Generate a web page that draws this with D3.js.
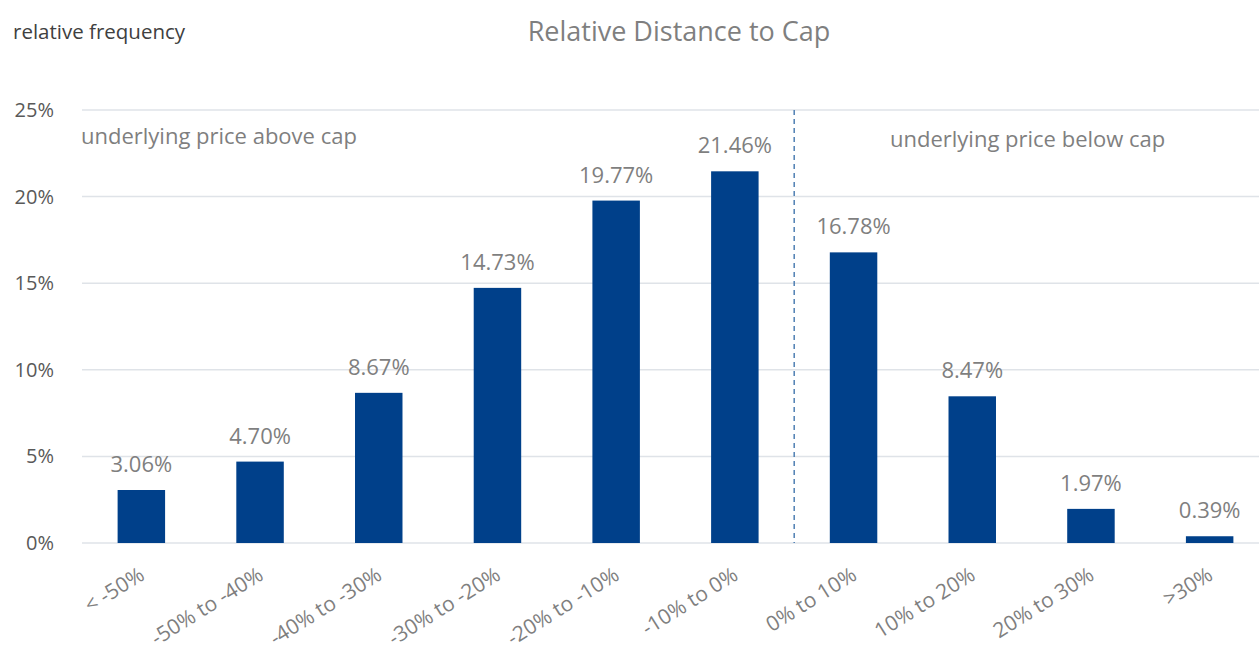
<!DOCTYPE html>
<html><head><meta charset="utf-8">
<script src="https://cdn.jsdelivr.net/npm/d3@7"></script>
<style>body{margin:0;background:#fff}svg{display:block;font-family:"Open Sans",sans-serif}</style>
</head><body><svg id="c" width="1259" height="651"></svg>
<script>
const categories = ["< -50%","-50% to -40%","-40% to -30%","-30% to -20%","-20% to -10%","-10% to 0%","0% to 10%","10% to 20%","20% to 30%",">30%"];
const values = [3.06,4.70,8.67,14.73,19.77,21.46,16.78,8.47,1.97,0.39];
const yTicks = [0,5,10,15,20,25];
const title = "Relative Distance to Cap";
const yLabel = "relative frequency";
const noteLeft = "underlying price above cap";
const noteRight = "underlying price below cap";

const W=1259,H=651, mLeft=82, mRight=1269, mTop=110, mBottom=543;
const FONT='"Open Sans",sans-serif';
const svg=d3.select("#c");
const x=d3.scaleBand().domain(categories).range([mLeft,mRight]).paddingInner(0.6).paddingOuter(0.3);
const y=d3.scaleLinear().domain([0,25]).range([mBottom,mTop]);

// gridlines
svg.append("g").selectAll("line").data(yTicks).join("line")
 .attr("x1",mLeft).attr("x2",W).attr("y1",d=>y(d)).attr("y2",d=>y(d))
 .attr("stroke","#dfe3e8").attr("stroke-width",1.5);
// y axis labels
const ya=svg.append("g").attr("transform",`translate(${mLeft-25},0)`)
 .call(d3.axisLeft(y).tickValues(yTicks).tickFormat(d=>d+"%").tickSize(0));
ya.select(".domain").remove();
ya.selectAll("text").attr("font-size",20).attr("fill","#595959").attr("font-family",FONT).attr("dx",0);

// bars
svg.append("g").selectAll("rect").data(values).join("rect")
 .attr("x",(d,i)=>x(categories[i])).attr("width",x.bandwidth())
 .attr("y",d=>y(d)).attr("height",d=>y(0)-y(d)).attr("fill","#00408a");
// value labels
svg.append("g").selectAll("text").data(values).join("text")
 .attr("x",(d,i)=>x(categories[i])+x.bandwidth()/2).attr("y",d=>y(d)-18)
 .attr("text-anchor","middle").attr("font-size",22).attr("fill","#7f7f7f")
 .text(d=>d.toFixed(2)+"%");

// x labels
const xa=svg.append("g").attr("transform",`translate(0,${mBottom})`)
 .call(d3.axisBottom(x).tickSize(0));
xa.select(".domain").remove();
xa.selectAll("text").attr("font-size",21).attr("fill","#7f7f7f").attr("font-family",FONT)
 .attr("text-anchor","end").attr("dy",0)
 .attr("transform","translate(3,33) rotate(-32)");

// dashed divider
const xd=(x(categories[5])+x.bandwidth()+x(categories[6]))/2;
svg.append("line").attr("x1",xd).attr("x2",xd).attr("y1",y(25)).attr("y2",y(0))
 .attr("stroke","#4f7fb3").attr("stroke-width",1.5).attr("stroke-dasharray","5,4");

// texts
svg.append("text").attr("x",679).attr("y",41).attr("text-anchor","middle")
 .attr("font-size",27).attr("fill","#7f7f7f").text(title);
svg.append("text").attr("x",13).attr("y",39).attr("font-size",20.5).attr("fill","#404040").text(yLabel);
svg.append("text").attr("x",81).attr("y",144).attr("font-size",22).attr("fill","#7f7f7f").text(noteLeft);
svg.append("text").attr("x",890).attr("y",147).attr("font-size",22).attr("fill","#7f7f7f").text(noteRight);
</script></body></html>
